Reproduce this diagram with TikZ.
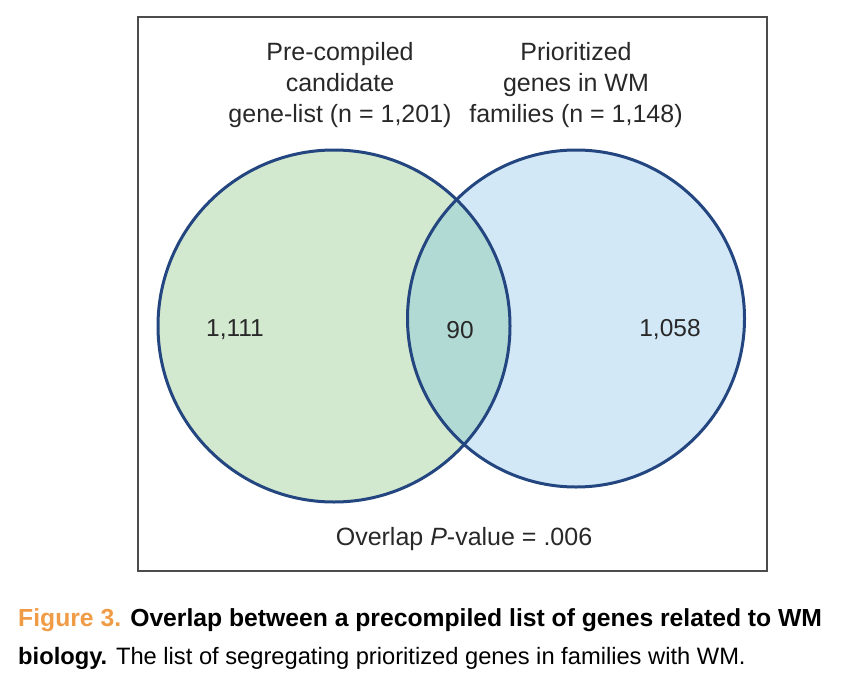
\documentclass[tikz,border=0pt]{standalone}
\usepackage{fontspec}
\setmainfont{Liberation Sans}
\usetikzlibrary{positioning, backgrounds, fit, calc}
\definecolor{setgreen}{RGB}{210,232,207}
\definecolor{setblue}{RGB}{211,232,246}
\definecolor{setboth}{RGB}{178,218,212}
\definecolor{rimblue}{RGB}{35,70,128}
\definecolor{inkgray}{RGB}{40,40,40}
\definecolor{figorange}{RGB}{240,155,70}
\tikzset{%
	frame/.style={draw=black!70, line width=1.2pt, rectangle, inner sep=0pt},
	setA/.style={circle, fill=setgreen, inner sep=0pt, minimum size=352pt},
	setB/.style={circle, fill=setblue, inner sep=0pt, minimum size=337pt},
	rim/.style={draw=rimblue, line width=3pt},
	setlabel/.style={align=center, text=inkgray, font=\fontsize{25}{31}\selectfont},
	count/.style={text=inkgray, font=\fontsize{24.5}{30}\selectfont},
	caption/.style={anchor=base west, inner sep=0pt, font=\fontsize{24.7}{30}\selectfont}
}
\begin{document}
\begin{tikzpicture}[x=1pt, y=-1pt]
	\useasboundingbox (0,0) rectangle (858,682);
	\node[frame, minimum width=629pt, minimum height=554pt] (box) at (452.5,294) {};

	% the two sets
	\node[setA] (listA) at (334,326) {};
	\node[setB] (listB) at (576,318.5) {};
	\begin{scope}
		\clip (listA.center) circle (176);
		\fill[setboth] (listB.center) circle (168.5);
	\end{scope}
	\draw[rim] (listA.center) circle (176);
	\draw[rim] (listB.center) circle (168.5);

	\node[setlabel] (labA) at (340,85.5) {Pre-compiled\\candidate\\gene-list (n = 1,201)};
	\node[setlabel] (labB) at (576,85.5) {Prioritized\\genes in WM\\families (n = 1,148)};

	\node[count] (onlyA) at (235,330) {1,111};
	\node[count] (both) at (460,330) {90};
	\node[count] (onlyB) at (670,330) {1,058};

	\node[setlabel, anchor=base] (pval) at (464,545) {Overlap \textit{P}-value = .006};

	\node[caption] (cap1) at (18,626) {\textbf{\textcolor{figorange}{Figure 3.} Overlap between a precompiled list of genes related to WM}};
	\node[caption, font=\fontsize{23.7}{30}\selectfont] (cap2) at (18,664) {\textbf{biology.} The list of segregating prioritized genes in families with WM.};
\end{tikzpicture}
\end{document}
